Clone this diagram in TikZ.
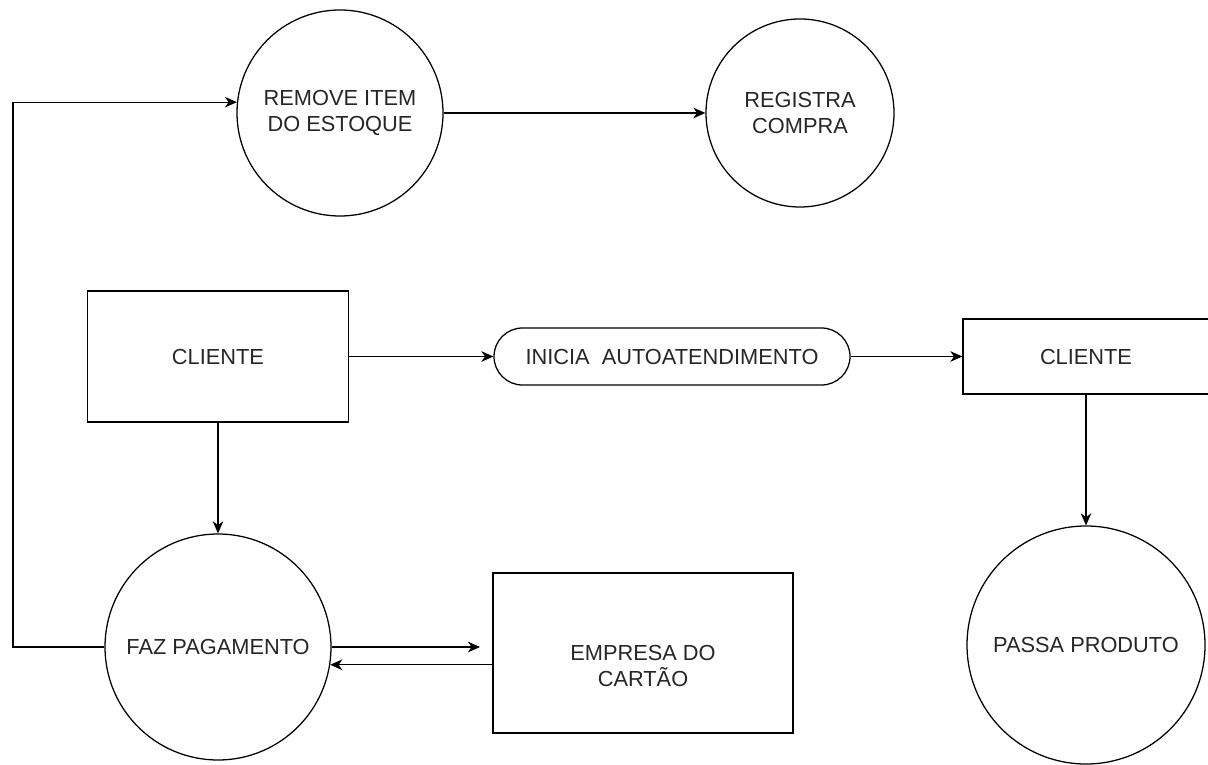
\documentclass[tikz,border=0pt]{standalone}
\usepackage{fontspec}
\setmainfont{Liberation Sans}
\usetikzlibrary{arrows.meta}

\begin{document}
\begin{tikzpicture}[
	>={Stealth[length = 8.5pt, width = 7.5pt, inset = 2.5pt]},
	line width = 0.9pt,
	process/.style = {draw = black,
		shape = circle,
		inner sep = 0pt,
		align = center,
		text = black!85,
		font = \fontsize{15.5}{18}\selectfont},
	entity/.style = {draw = black,
		shape = rectangle,
		align = center,
		text = black!85,
		font = \fontsize{15.5}{18}\selectfont}]

	\useasboundingbox (0,0) rectangle (30.2,19.1);
	\clip (0,0) rectangle (30.2,19.1);

	\node[process, minimum size = 5.15cm](remove) at (8.5,16.275){REMOVE ITEM\\DO ESTOQUE};
	\node[process, minimum size = 4.7cm](registra) at (20.0,16.275){REGISTRA\\COMPRA};

	\node[entity,
		  minimum width = 6.525cm,
		  minimum height = 3.275cm](cliente) at (5.45,10.1875){CLIENTE};
	\node[entity,
		  rounded corners = 0.7125cm,
		  minimum width = 8.9cm,
		  minimum height = 1.425cm](inicia) at (16.8,10.1875){INICIA\ \ AUTOATENDIMENTO};
	\node[entity,
		  minimum width = 6.15cm,
		  minimum height = 1.875cm](cliente2) at (27.15,10.1875){CLIENTE};

	\node[process, minimum size = 5.65cm](faz) at (5.45,2.925){FAZ PAGAMENTO};
	\node[entity,
		  text height = 1.7cm,
		  text depth = 0.05cm,
		  minimum width = 7.5cm,
		  minimum height = 4cm](empresa) at (16.075,2.775){EMPRESA DO\\CARTÃO};
	\node[process, minimum size = 5.95cm](passa) at (27.15,2.975){PASSA PRODUTO};

	\coordinate (back) at (0.325,2.925);
	\coordinate (pay) at (12.0,2.925);

	\draw[->] (remove) -- (registra);
	\draw[->] (cliente) -- (inicia);
	\draw[->] (inicia) -- (cliente2);
	\draw[->] (cliente) -- (faz);
	\draw[->] (cliente2) -- (passa);

	\draw[->] (faz.east) -- (pay);
	\draw[->] (empresa.west |- faz.-9) -- (faz.-9);

	\draw[->] (faz.west) -- (back) |- (remove.174);

\end{tikzpicture}
\end{document}
